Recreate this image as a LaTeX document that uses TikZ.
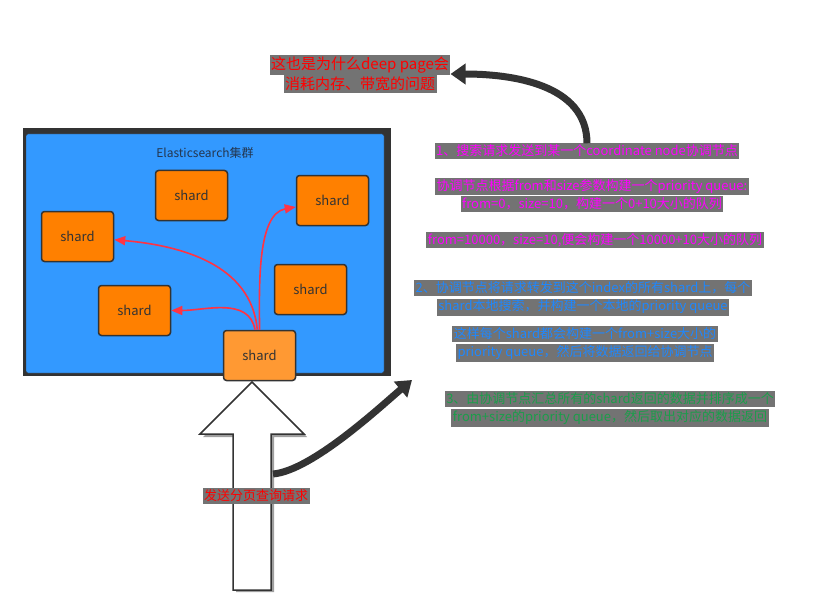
\documentclass[tikz,border=0pt]{standalone}
\usepackage{fontspec}
\setmainfont{Noto Sans CJK SC}
\usetikzlibrary{arrows.meta}
\definecolor{clusterblue}{HTML}{3399FF}
\definecolor{shardorange}{HTML}{FF8000}
\definecolor{coordorange}{HTML}{FF9933}
\definecolor{darkline}{HTML}{333333}
\definecolor{titleblue}{HTML}{23364F}
\definecolor{arrowred}{HTML}{FF3344}
\definecolor{hlgray}{HTML}{737373}
\definecolor{notered}{HTML}{FF0000}
\definecolor{notepink}{HTML}{FF00FF}
\definecolor{noteblue}{HTML}{1E88FF}
\definecolor{notegreen}{HTML}{1A9E4A}
\newcommand{\graybg}[1]{\colorbox{hlgray}{#1}}
\setlength{\fboxsep}{1.5pt}

\begin{document}
\begin{tikzpicture}[x=1pt,y=-1pt,
    darkarrow/.style={draw=darkline,line width=7pt,-{Triangle[length=15pt,width=20pt]}}]
    \useasboundingbox (0,0) rectangle (822,615);
    % cluster
    \fill[darkline] (23,128) rectangle (391,376);
    \node[draw=darkline,fill=clusterblue,rounded corners=2pt,inner sep=0,minimum width=358pt,minimum height=239pt] (E) at (205,253.5) {};
    \node[text=titleblue,font=\fontsize{12}{14}\selectfont] (title) at (205,153) {Elasticsearch集群};
    \begin{scope}[every node/.style={rectangle,rounded corners=3pt,draw=darkline,line width=1.5pt,fill=shardorange,minimum width=72pt,minimum height=50pt,text=darkline,font=\fontsize{13}{15}\selectfont}]
        \node (S1) at (191.5,195.5) {shard};
        \node (S2) at (332.5,200.5) {shard};
        \node (S3) at (77.5,236.5) {shard};
        \node (S4) at (310.5,289.5) {shard};
        \node (S5) at (134.5,310.5) {shard};
        \node[fill=coordorange] (C) at (259.5,355.5) {shard};
    \end{scope}
    \begin{scope}[every edge/.style={draw=arrowred,line width=1.6pt,-{Triangle[length=11pt,width=9pt]}}]
        \draw (C) edge [out=95,in=-5] (S3);
        \draw (C) edge [out=100,in=0] (S5);
        \draw (C) edge [out=90,in=190,looseness=0.8] (S2);
    \end{scope}
    % request arrow
    \fill[gray!75] (255,385) -- (307,437) -- (274,437) -- (274,592) -- (236,592) -- (236,437) -- (203,437) -- cycle;
    \draw[fill=white,draw=darkline,line width=1.5pt] (252,382) -- (304,434) -- (271,434) -- (271,590) -- (233,590) -- (233,434) -- (200,434) -- cycle;
    \coordinate (R) at (273,474);
    \coordinate (P) at (412,380);
    % notes
    \begin{scope}[every node/.style={inner sep=0,align=center,font=\fontsize{13}{18}\selectfont}]
        \node[text=notered,font=\fontsize{15}{20}\selectfont] (T) at (360,74) {\graybg{这也是为什么deep page会}\\\graybg{消耗内存、带宽的问题}};
        \node[text=notepink] (M1) at (587,151) {\graybg{1、搜索请求发送到某一个coordinate node协调节点}};
        \node[text=notepink] (M2) at (592,195) {\graybg{协调节点根据from和size参数构建一个priority queue:}\\\graybg{from=0，size=10，构建一个0+10大小的队列}};
        \node[text=notepink] (M3) at (595,240) {\graybg{from=10000，size=10,便会构建一个10000+10大小的队列}};
        \node[text=noteblue] (B1) at (583,298) {\graybg{2、协调节点将请求转发到这个index的所有shard上，每个}\\\graybg{shard本地搜索，并构建一个本地的priority queue}};
        \node[text=noteblue] (B2) at (585,344) {\graybg{这样每个shard都会构建一个from+size大小的}\\\graybg{priority queue，然后将数据返回给协调节点}};
        \node[text=notegreen] (G) at (610,409) {\graybg{3、由协调节点汇总所有的shard返回的数据并排序成一个}\\\graybg{from+size的priority queue，然后取出对应的数据返回}};
        \node[text=notered] (L) at (256,496) {\graybg{发送分页查询请求}};
    \end{scope}
    \draw[darkarrow] (M1.north) to[out=90,in=0] (T.east);
    \draw[darkarrow] (R) to[out=5,in=220,looseness=0.6] (P);
\end{tikzpicture}
\end{document}
